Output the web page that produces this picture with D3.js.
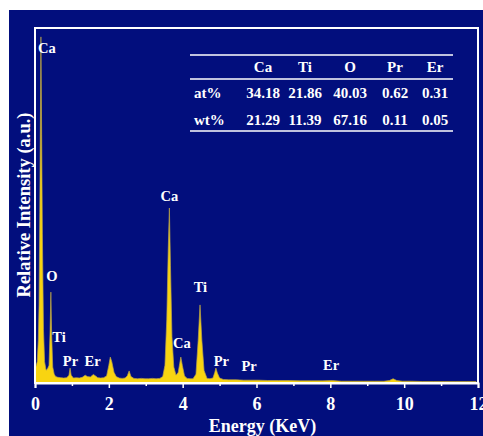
<!DOCTYPE html>
<html>
<head>
<meta charset="utf-8">
<script src="https://cdn.jsdelivr.net/npm/d3@7"></script>
<style>
  html, body { margin: 0; padding: 0; background: #ffffff; }
  svg { display: block; }
  text { font-family: "Liberation Serif", "Times New Roman", serif; font-weight: bold; fill: #ffffff; }
</style>
</head>
<body>
<svg id="chart" width="483" height="436"></svg>
<script>
// ---- Data ----
const energy = [0.02,0.06,0.09,0.11,0.13,0.15,0.16,0.18,0.20,0.23,0.26,0.30,0.34,0.38,0.41,0.43,0.45,0.48,0.52,0.56,0.62,0.70,0.78,0.86,0.92,0.95,0.98,1.04,1.12,1.20,1.28,1.36,1.42,1.50,1.58,1.64,1.70,1.78,1.86,1.94,2.00,2.04,2.08,2.14,2.20,2.28,2.36,2.44,2.50,2.55,2.60,2.68,2.78,2.88,2.98,3.08,3.18,3.28,3.38,3.46,3.52,3.57,3.61,3.64,3.67,3.71,3.76,3.82,3.88,3.92,3.95,3.99,4.05,4.12,4.20,4.28,4.36,4.42,4.47,4.52,4.58,4.66,4.74,4.82,4.87,4.90,4.94,5.00,5.10,5.25,5.45,5.65,5.85,6.05,6.30,6.60,6.90,7.20,7.50,7.80,8.05,8.30,8.60,8.90,9.20,9.45,9.60,9.70,9.80,9.95,10.2,10.5,10.8,11.1,11.4,11.7,11.95];
const counts = [45,60,120,220,480,800,975,700,420,150,60,36,40,50,150,256,140,45,25,18,16,15,14,15,22,42,22,14,15,14,16,22,18,17,24,20,15,14,15,20,50,73,60,30,18,14,13,14,20,34,18,13,12,13,12,12,13,12,13,18,50,180,380,493,330,130,45,22,30,55,73,50,20,13,12,12,25,120,220,120,35,13,12,14,30,42,28,14,10,9,9,8,8,8,7,7,7,6,6,6,7,5,5,5,5,5,7,12,7,5,5,4,4,4,4,4,4];

const xTicks = [0,2,4,6,8,10,12];
const xMinorTicks = [1,3,5,7,9,11];

const peakLabels = ["Ca","O","Ti","Pr","Er","Ca","Ca","Ti","Pr","Pr","Er"];
const peakLabelE = [0.32,0.46,0.65,0.96,1.56,3.64,3.98,4.48,5.05,5.80,8.02];
const peakLabelC = [930,286,115,48,48,513,99,256,48,34,37];

const tableCols = ["Ca","Ti","O","Pr","Er"];
const tableRows = ["at%","wt%"];
const atPct = ["34.18","21.86","40.03","0.62","0.31"];
const wtPct = ["21.29","11.39","67.16","0.11","0.05"];

// ---- Drawing ----
const svg = d3.select("#chart");
const W = 483, H = 436;
const navy = "#020e7d", yellow = "#f8d411";

svg.append("rect").attr("x", 9).attr("y", 10).attr("width", W - 9).attr("height", H - 10).attr("fill", navy);

const L = 35, R = 478, T = 28, B = 383;
const x = d3.scaleLinear().domain([0, 12]).range([L, R]);
const y = d3.scaleLinear().domain([0, 1000]).range([B, T]);

const data = energy.map((e, i) => ({ e: e, c: counts[i] }));

svg.append("defs").append("clipPath").attr("id", "clip")
  .append("rect").attr("x", L).attr("y", T).attr("width", R - L).attr("height", B - T);

const g = svg.append("g").attr("clip-path", "url(#clip)");
const area = d3.area().x(d => x(d.e)).y0(y(0)).y1(d => y(d.c));
const line = d3.line().x(d => x(d.e)).y(d => y(d.c));
g.append("path").datum(data).attr("d", area).attr("fill", yellow);
g.append("path").datum(data).attr("d", line).attr("fill", "none").attr("stroke", "#b8a24a").attr("stroke-width", 0.7);

// frame
svg.append("rect").attr("x", L).attr("y", T).attr("width", R - L).attr("height", B - T)
  .attr("fill", "none").attr("stroke", "#ffffff").attr("stroke-width", 2);

// x axis
const xAxis = d3.axisBottom(x).tickValues(xTicks).tickSize(5).tickFormat(d3.format("d"));
const ax = svg.append("g").attr("transform", `translate(0,${B})`).call(xAxis);
ax.select(".domain").attr("stroke", "#ffffff").attr("stroke-width", 2);
ax.selectAll(".tick line").attr("stroke", "#ffffff").attr("stroke-width", 1.5);
ax.selectAll(".tick text").attr("fill", "#ffffff").attr("font-size", 18)
  .attr("font-family", "Liberation Serif, serif").attr("font-weight", "bold").attr("dy", "1.05em");
const axm = svg.append("g").attr("transform", `translate(0,${B})`)
  .call(d3.axisBottom(x).tickValues(xMinorTicks).tickSize(3).tickFormat(""));
axm.select(".domain").remove();
axm.selectAll(".tick line").attr("stroke", "#ffffff").attr("stroke-width", 1.5);

// axis titles
svg.append("text").attr("x", (L + R) / 2 + 6).attr("y", 432).attr("text-anchor", "middle")
  .attr("font-size", 18).text("Energy (KeV)");
svg.append("text").attr("transform", `translate(29.5,205) rotate(-90)`)
  .attr("text-anchor", "middle").attr("font-size", 18.5).text("Relative Intensity (a.u.)");

// peak labels
svg.append("g").selectAll("text").data(peakLabels).join("text")
  .attr("x", (d, i) => x(peakLabelE[i]))
  .attr("y", (d, i) => y(peakLabelC[i]))
  .attr("text-anchor", "middle").attr("font-size", 14.5).text(d => d);

// table
const tx0 = 190, tx1 = 453;
const colX = [263, 305, 350, 395, 435];
const lineY = [55, 79, 131];
const tbl = svg.append("g");
tbl.selectAll("line").data(lineY).join("line")
  .attr("x1", tx0).attr("x2", tx1).attr("y1", d => d).attr("y2", d => d)
  .attr("stroke", "#ffffff").attr("stroke-width", 1.5);
tbl.selectAll("text.h").data(tableCols).join("text").attr("class", "h")
  .attr("x", (d, i) => colX[i]).attr("y", 72).attr("text-anchor", "middle").attr("font-size", 15).text(d => d);
const rowsY = [98, 125];
tbl.selectAll("text.r").data(tableRows).join("text").attr("class", "r")
  .attr("x", 194).attr("y", (d, i) => rowsY[i]).attr("font-size", 15).text(d => d);
[atPct, wtPct].forEach((row, ri) => {
  tbl.selectAll("text.v" + ri).data(row).join("text").attr("class", "v" + ri)
    .attr("x", (d, i) => colX[i]).attr("y", rowsY[ri]).attr("text-anchor", "middle").attr("font-size", 15).text(d => d);
});
</script>
</body>
</html>
